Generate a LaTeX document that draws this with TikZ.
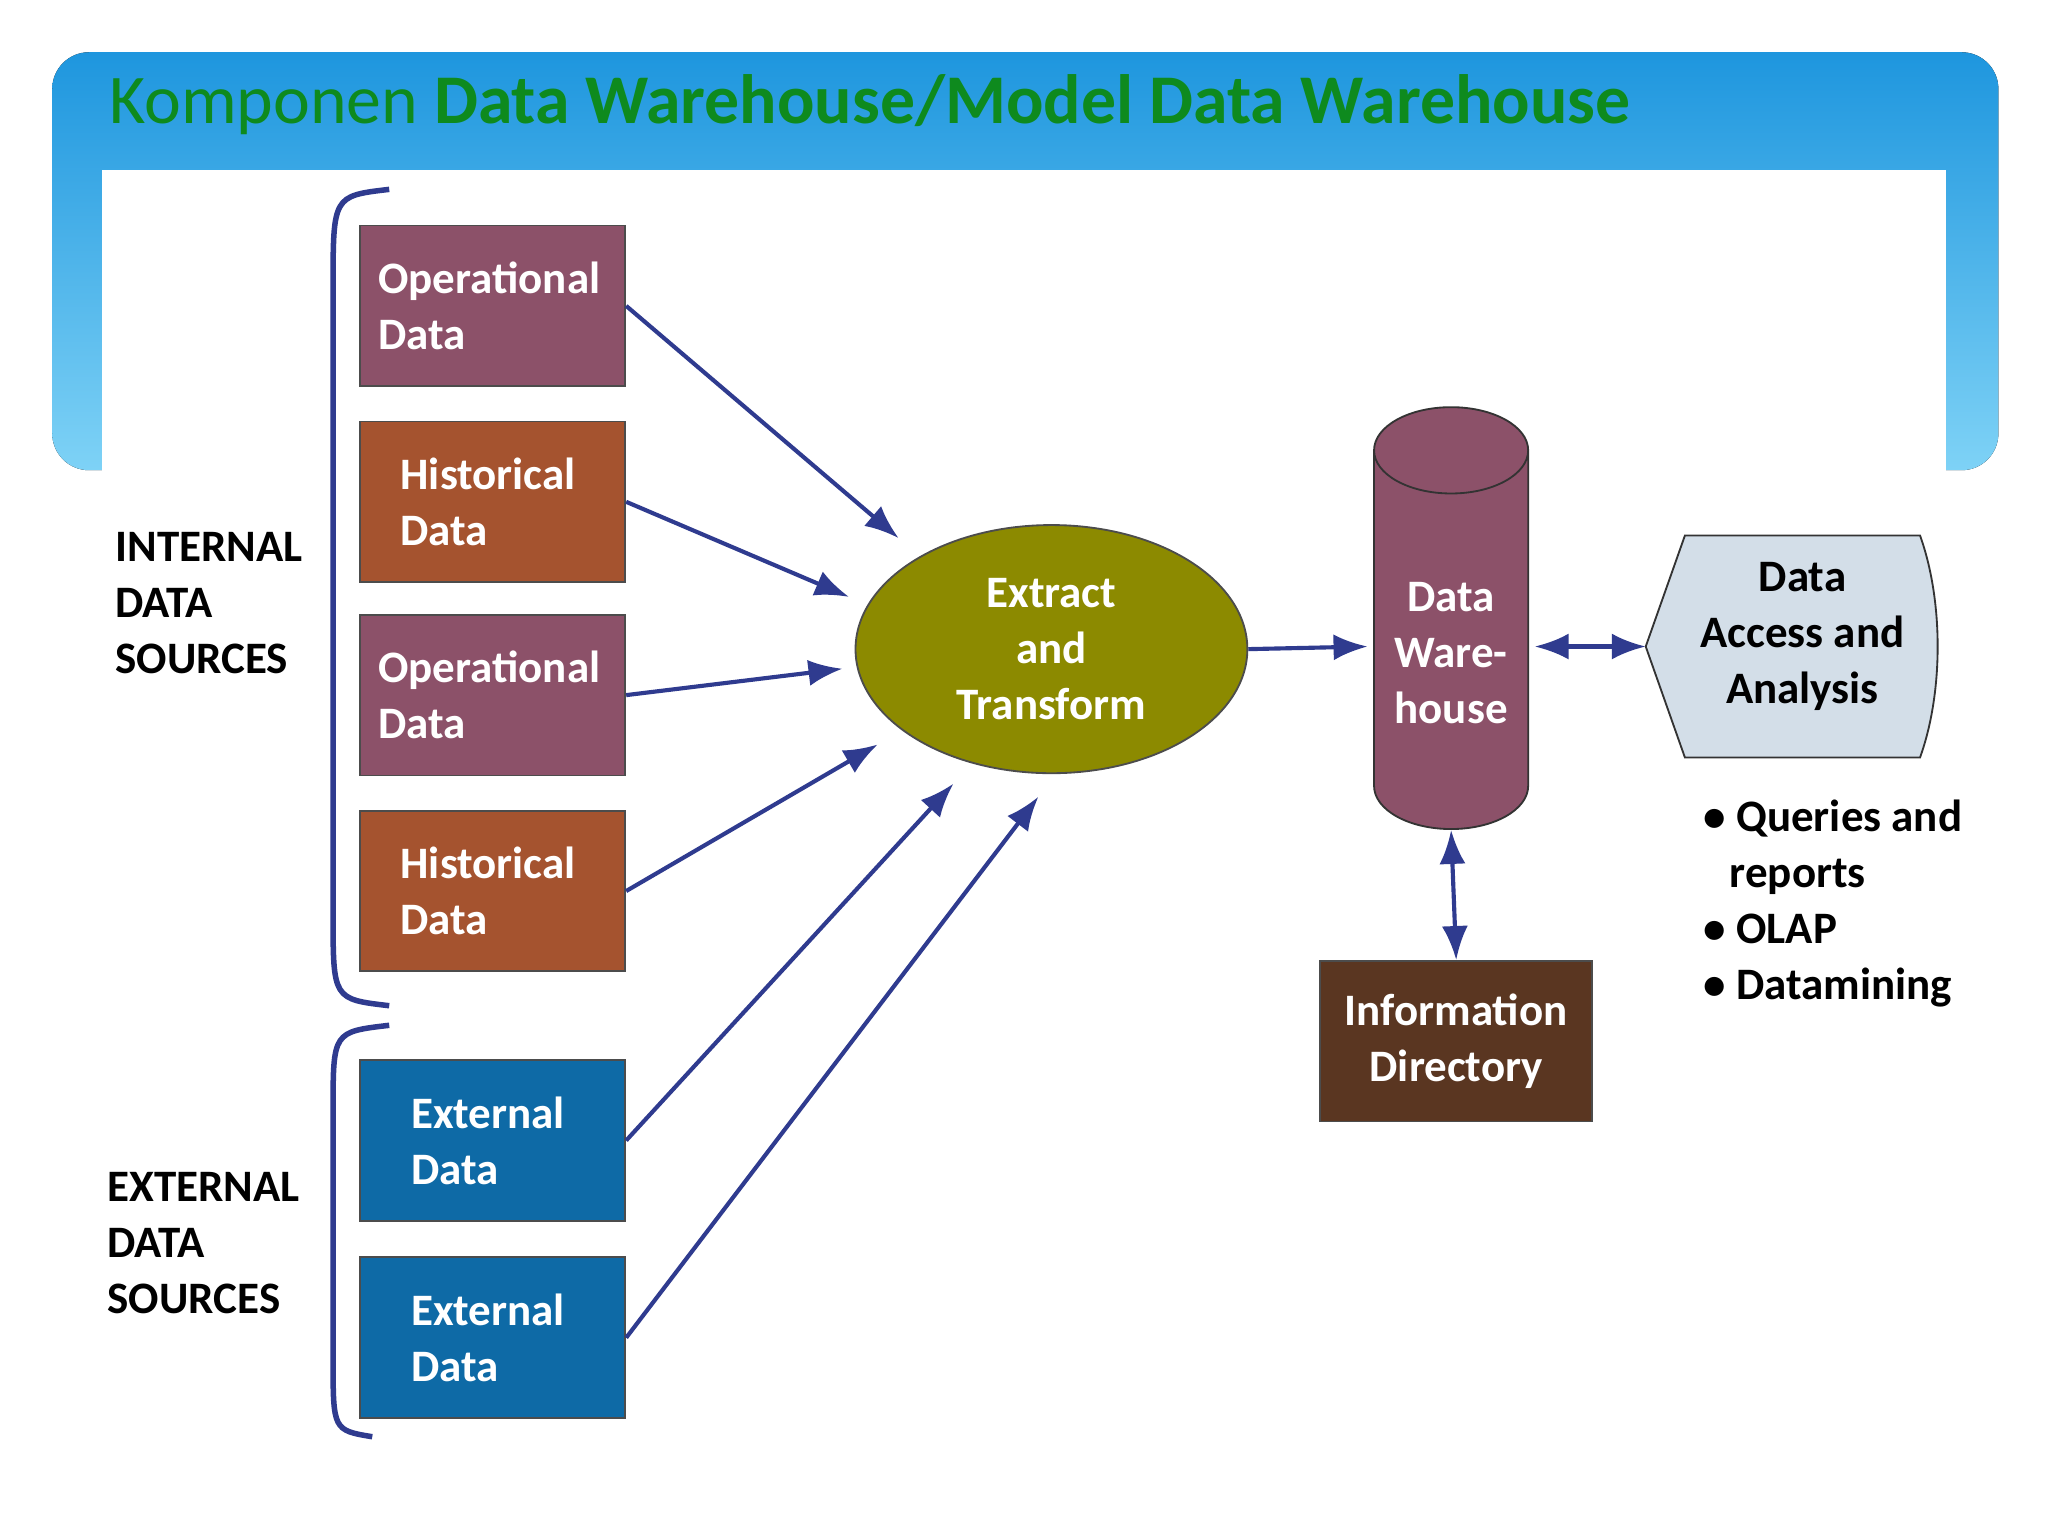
\documentclass[tikz,border=0pt]{standalone}
\usepackage{fontspec}
\setmainfont{Carlito}
\usetikzlibrary{arrows.meta,shapes.geometric,positioning}
\definecolor{opcol}{HTML}{8C5169}
\definecolor{histcol}{HTML}{A5532F}
\definecolor{extcol}{HTML}{0E6AA6}
\definecolor{etcol}{HTML}{8C8A00}
\definecolor{dircol}{HTML}{5A3621}
\definecolor{accol}{HTML}{D3DEE8}
\definecolor{arrcol}{HTML}{2F3B8F}
\definecolor{titlecol}{HTML}{0E8A1E}
\definecolor{bandtop}{HTML}{1E96DE}
\definecolor{bandbot}{HTML}{7ED2F6}
\tikzset{
  src/.style={draw=black!70, fill=#1, minimum width=2.03cm, minimum height=1.23cm,
    text width=1.75cm, align=left, text=white, font=\bfseries\fontsize{9.8}{12.2}\selectfont, anchor=north west},
  flow/.style={-{Latex[length=2.6mm,width=2mm]}, draw=arrcol, line width=0.9pt},
  side/.style={font=\bfseries\fontsize{9.8}{12.2}\selectfont, align=left, anchor=north west},
}
\begin{document}
\begin{tikzpicture}[x=1cm,y=-1cm]
    \useasboundingbox (0,0) rectangle (15.68,11.76);
    % header band
    \fill[top color=bandtop, bottom color=bandbot] (0.4,0.4) [rounded corners=8pt] rectangle (15.3,3.6);
    \fill[white] (0.78,1.3) rectangle (14.9,11.76);
    \node[anchor=west, text=titlecol, font=\fontsize{15.2}{18}\selectfont, inner sep=0] (title) at (0.83,0.8)
      {Komponen \textbf{Data Warehouse/Model Data Warehouse}};

    % sources
    \node[src=opcol] (op1) at (2.75,1.72) {Operational Data};
    \node[src=histcol] (hi1) at (2.75,3.22) {\hspace*{0.17cm}Historical\\\hspace*{0.17cm}Data};
    \node[src=opcol] (op2) at (2.75,4.70) {Operational Data};
    \node[src=histcol] (hi2) at (2.75,6.20) {\hspace*{0.17cm}Historical\\\hspace*{0.17cm}Data};
    \node[src=extcol] (ex1) at (2.75,8.11) {\hspace*{0.25cm}External\\\hspace*{0.25cm}Data};
    \node[src=extcol] (ex2) at (2.75,9.62) {\hspace*{0.25cm}External\\\hspace*{0.25cm}Data};

    % braces
    \draw[arrcol, line width=1.2pt] (2.98,1.45) .. controls (2.55,1.5) .. (2.55,2.2) -- (2.55,7.0) .. controls (2.55,7.65) .. (2.98,7.7);
    \draw[arrcol, line width=1.2pt] (2.98,7.85) .. controls (2.55,7.9) .. (2.55,8.5) -- (2.55,10.4) .. controls (2.55,10.95) .. (2.85,11.0);
    \node[side] (intlbl) at (0.76,3.95) {INTERNAL\\DATA\\SOURCES};
    \node[side] (extlbl) at (0.7,8.85) {EXTERNAL\\DATA\\SOURCES};

    % extract and transform
    \node[ellipse, draw=black!70, fill=etcol, minimum width=3.0cm, minimum height=1.9cm,
      text=white, font=\bfseries\fontsize{9.8}{12.2}\selectfont, align=center] (et) at (8.05,4.97) {Extract\\and\\Transform};

    % warehouse cylinder
    \node[cylinder, shape border rotate=90, aspect=0.6, draw=black!80, fill=opcol, minimum width=1.18cm,
      minimum height=3.23cm, text=white, font=\bfseries\fontsize{9.8}{12.2}\selectfont, align=center] (dw) at (11.11,5.0) {Data\\Ware-\\house};

    % access and analysis
    \path (12.6,4.95) coordinate (aa1) (12.9,4.1) coordinate (aa2) (14.7,4.1) coordinate (aa3)
          (14.7,5.8) coordinate (aa4) (12.9,5.8) coordinate (aa5);
    \draw[black!80, fill=accol] (aa1) -- (aa2) -- (aa3) .. controls (14.88,4.6) and (14.88,5.3) .. (aa4) -- (aa5) -- cycle;
    \node[font=\bfseries\fontsize{9.8}{12.2}\selectfont, align=center] (aa) at (13.8,4.87) {Data\\Access and\\Analysis};
    \node[side, anchor=north west] (bul) at (12.92,6.0) {\textbullet\ Queries and\\\hspace*{0.2cm}reports\\\textbullet\ OLAP\\\textbullet\ Datamining};

    % directory
    \node[src=dircol, minimum width=2.02cm, text width=1.85cm, align=center] (dir) at (10.1,7.35) {Information Directory};

    % connectors
    \draw[flow] (op1.east) -- (6.88,4.12);
    \draw[flow] (hi1.east) -- (6.5,4.57);
    \draw[flow] (op2.east) -- (6.45,5.12);
    \draw[flow] (hi2.east) -- (6.72,5.7);
    \draw[flow] (ex1.east) -- (7.3,6.0);
    \draw[flow] (ex2.east) -- (7.95,6.1);
    \draw[flow] (et.east) -- (10.47,4.95);
    \draw[flow, {Latex[length=2.6mm,width=2mm]}-{Latex[length=2.6mm,width=2mm]}] (11.75,4.95) -- (aa1);
    \draw[flow, {Latex[length=2.6mm,width=2mm]}-{Latex[length=2.6mm,width=2mm]}] (dw.south) -- (dir.north);
\end{tikzpicture}
\end{document}
